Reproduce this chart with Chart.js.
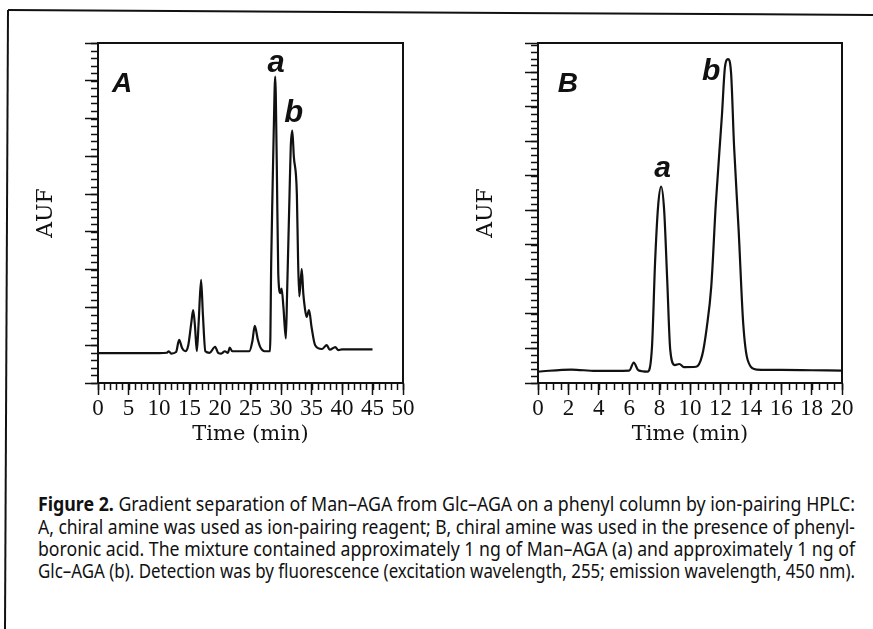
<!DOCTYPE html>
<html>
<head>
<meta charset="utf-8">
<script src="https://cdn.jsdelivr.net/npm/chart.js@4.4.0/dist/chart.umd.min.js"></script>
<style>
  body { margin: 0; background: #fff; width: 873px; height: 629px; overflow: hidden; position: relative; }
  #chartA { position: absolute; left: 0; top: 0; }
  #chartB { position: absolute; left: 440px; top: 0; }
  #frame { position: absolute; left: 0; top: 0; }
  .cap { position: absolute; left: 38px; white-space: nowrap; font-family: "Noto Sans", sans-serif;
         font-size: 20px; line-height: 22px; color: #111; transform-origin: 0 50%; }
</style>
</head>
<body>
<svg id="frame" width="873" height="629">
  <line x1="8" y1="10" x2="873" y2="15" stroke="#111" stroke-width="2"/>
  <line x1="8" y1="10" x2="5" y2="629" stroke="#111" stroke-width="2"/>
</svg>
<canvas id="chartA" width="440" height="460"></canvas>
<canvas id="chartB" width="433" height="460"></canvas>

<div class="cap" style="top:493px"><b>Figure 2.</b> Gradient separation of Man–AGA from Glc–AGA on a phenyl column by ion-pairing HPLC:</div>
<div class="cap" style="top:516px">A, chiral amine was used as ion-pairing reagent; B, chiral amine was used in the presence of phenyl-</div>
<div class="cap" style="top:538px">boronic acid. The mixture contained approximately 1 ng of Man–AGA (a) and approximately 1 ng of</div>
<div class="cap" style="top:560px">Glc–AGA (b). Detection was by fluorescence (excitation wavelength, 255; emission wavelength, 450 nm).</div>

<script>
// Panel A: chiral amine as ion-pairing reagent (time in min, detector response)
const timeA = [0, 5, 10, 11.3, 11.6, 12.0, 12.8, 13.3, 13.8, 14.3, 14.8, 15.3, 15.6, 15.9, 16.2, 16.5, 16.9, 17.2, 17.6,
  18.3, 19.2, 19.7, 20.2, 20.8, 21.3, 21.6, 22.0, 24.8, 25.3, 25.7, 26.2, 26.6, 27.3, 28.2, 28.4, 28.6, 28.8, 29.05,
  29.3, 29.55, 29.9, 30.1, 30.4, 30.8, 31.0, 31.4, 31.6, 31.85, 32.1, 32.6, 32.8, 33.0, 33.4, 33.65, 33.9, 34.2, 34.6,
  35.0, 35.6, 36.7, 37.5, 38.0, 38.9, 39.4, 40, 45];
const aufA = [0.79, 0.79, 0.79, 0.80, 0.84, 0.78, 0.82, 1.14, 0.92, 0.84, 1.0, 1.6, 1.93, 1.5, 0.84, 1.6, 2.73, 1.8, 0.84,
  0.80, 0.96, 0.80, 0.78, 0.84, 0.80, 0.94, 0.84, 0.84, 1.1, 1.51, 1.15, 0.95, 0.84, 0.84, 3.26, 5.0, 6.6, 8.11,
  5.9, 2.9, 2.38, 2.5, 2.0, 1.18, 2.38, 5.0, 6.26, 6.68, 6.0, 5.0, 3.26, 2.29, 3.02, 2.38, 2.0, 1.75, 1.93,
  1.49, 1.0, 0.9, 1.0, 0.88, 0.95, 0.87, 0.89, 0.89];
const ticksA = { xMax: 50, xStep: 5, xMinor: 1, yMax: 9, yStep: 1, yMinor: 0.2 };

// Panel B: chiral amine with phenylboronic acid
const timeB = [0, 2.2, 3.8, 6.0, 6.3, 6.6, 7.2, 7.5, 7.7, 7.9, 8.1, 8.3, 8.5, 8.7, 9.0, 9.3, 9.6, 10.4, 10.8, 11.1,
  11.4, 11.7, 12.1, 12.3, 12.5, 12.7, 12.9, 13.2, 13.5, 13.8, 14.4, 16, 18, 20];
const aufB = [0.33, 0.39, 0.35, 0.36, 0.59, 0.37, 0.33, 1.05, 3.47, 5.11, 5.69, 5.0, 2.99, 0.96, 0.52, 0.55, 0.46, 0.47,
  0.8, 1.6, 2.8, 5.2, 7.75, 9.15, 9.38, 8.99, 6.85, 4.43, 1.73, 0.66, 0.39, 0.38, 0.37, 0.36];
const ticksB = { xMax: 20, xStep: 2, xMinor: 0.5, yMax: 9.85, yStep: 1, yMinor: 0.2 };

const ink = '#111';

// minor ticks, top/right frame and the italic peak letters
const frameTicks = {
  id: 'frameTicks',
  afterDraw(chart, args, opts) {
    const { ctx, chartArea: a, scales: { x, y } } = chart;
    ctx.save();
    ctx.strokeStyle = ink;
    ctx.lineWidth = 2;
    ctx.beginPath();
    ctx.moveTo(a.left, a.top);
    ctx.lineTo(a.right, a.top);
    ctx.lineTo(a.right, a.bottom);
    ctx.stroke();

    ctx.lineWidth = 1.5;
    ctx.beginPath();
    const nx = Math.round((x.max - x.min) / opts.xMinor);
    for (let i = 0; i <= nx; i++) {
      const px = Math.round(x.getPixelForValue(x.min + i * opts.xMinor)) + 0.5;
      ctx.moveTo(px, a.bottom);
      ctx.lineTo(px, a.bottom + 7);
    }
    const ny = Math.floor((y.max - y.min) / opts.yMinor + 1e-6);
    for (let i = 0; i <= ny; i++) {
      const py = Math.round(y.getPixelForValue(y.min + i * opts.yMinor)) + 0.5;
      ctx.moveTo(a.left - 7, py);
      ctx.lineTo(a.left, py);
    }
    ctx.stroke();

    ctx.fillStyle = ink;
    ctx.textBaseline = 'alphabetic';
    opts.letters.forEach(l => {
      ctx.font = `italic bold ${l.size}px "Liberation Sans", Arial, sans-serif`;
      ctx.textAlign = l.align;
      ctx.fillText(l.text, x.getPixelForValue(l.t), y.getPixelForValue(l.v));
    });
    ctx.restore();
  }
};

function makeChart(id, times, values, tk, padRight, letters) {
  return new Chart(document.getElementById(id), {
    type: 'line',
    data: {
      datasets: [{
        data: times.map((t, i) => ({ x: t, y: values[i] })),
        borderColor: ink,
        borderWidth: 2.2,
        pointRadius: 0,
        cubicInterpolationMode: 'monotone',
        fill: false
      }]
    },
    options: {
      responsive: false,
      animation: false,
      layout: { padding: { top: 43, right: padRight, left: 0, bottom: 14.5 } },
      plugins: {
        legend: { display: false },
        tooltip: { enabled: false },
        frameTicks: { xMinor: tk.xMinor, yMinor: tk.yMinor, letters: letters }
      },
      scales: {
        x: {
          type: 'linear', min: 0, max: tk.xMax,
          afterFit: s => { s.height = 62.5; },
          border: { color: ink, width: 2 },
          grid: { drawOnChartArea: false, tickLength: 12, tickColor: ink, tickWidth: 1.5 },
          ticks: { stepSize: tk.xStep, autoSkip: false, maxRotation: 0, color: ink, padding: 2,
                   font: { family: '"Liberation Serif", serif', size: 23, lineHeight: 1 } },
          title: { display: true, text: 'Time (min)', color: ink, padding: 0,
                   font: { family: '"DejaVu Serif", serif', size: 21, lineHeight: 1 } }
        },
        y: {
          min: 0, max: tk.yMax,
          afterFit: s => { s.width = 98; },
          border: { color: ink, width: 2 },
          grid: { drawOnChartArea: false, tickLength: 13, tickColor: ink, tickWidth: 1.5 },
          ticks: { stepSize: tk.yStep, display: false },
          title: { display: true, text: 'AUF', color: ink, padding: { top: 35.5, bottom: 0 },
                   font: { family: '"DejaVu Serif", serif', size: 22, lineHeight: 1 } }
        }
      }
    },
    plugins: [frameTicks]
  });
}

makeChart('chartA', timeA, aufA, ticksA, 37, [
  { text: 'A', t: 2.3, v: 7.7, size: 28, align: 'left' },
  { text: 'a', t: 29.2, v: 8.23, size: 31, align: 'center' },
  { text: 'b', t: 32.1, v: 6.91, size: 31, align: 'center' }
]);
makeChart('chartB', timeB, aufB, ticksB, 31, [
  { text: 'B', t: 1.3, v: 8.43, size: 28, align: 'left' },
  { text: 'a', t: 8.2, v: 5.97, size: 30, align: 'center' },
  { text: 'b', t: 11.4, v: 8.78, size: 30, align: 'center' }
]);

// stretch each caption line to the justified width of the original
document.querySelectorAll('.cap').forEach(el => {
  const w = el.getBoundingClientRect().width;
  el.style.transform = `scaleX(${817 / w})`;
});
</script>
</body>
</html>
